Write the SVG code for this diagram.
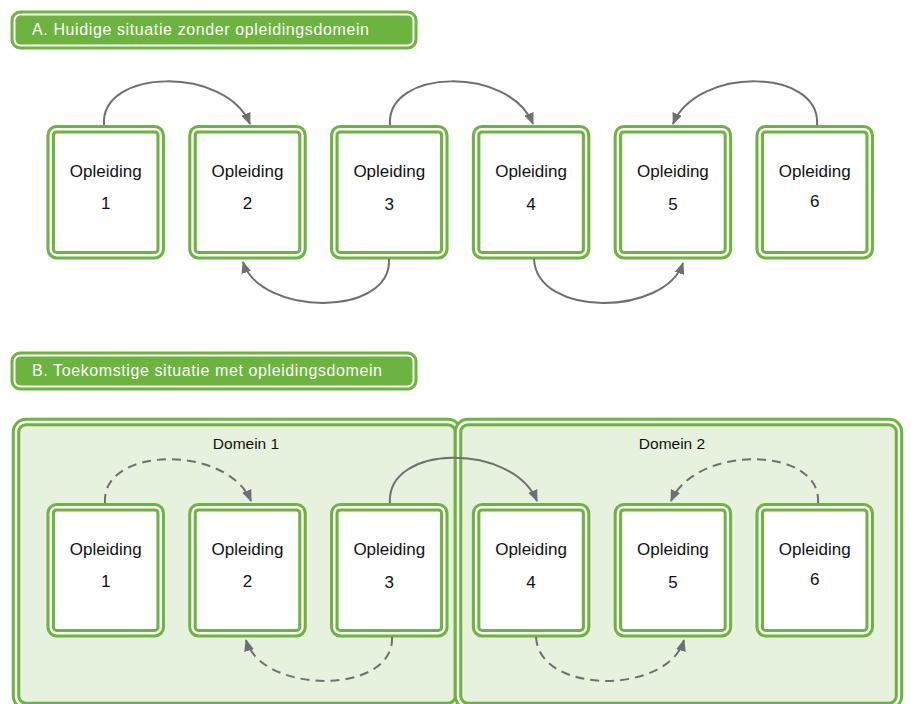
<svg xmlns="http://www.w3.org/2000/svg" width="911" height="704" viewBox="0 0 911 704">
  <style>
    .band { fill: none; stroke: #6db33f; stroke-width: 8.5; }
    .gap { fill: none; stroke: #ffffff; stroke-width: 2.4; }
    .card { fill: #ffffff; }
    .zone { fill: #e7f2de; }
    .hdr { fill: #6db33f; stroke: #6db33f; stroke-width: 1; }
    .hdr-line { fill: none; stroke: #ffffff; stroke-width: 2; }
    .hdr-text { font-family: "Liberation Sans", Arial, sans-serif; font-size: 16px; fill: #ffffff; }
    .lbl { font-family: "Liberation Sans", Arial, sans-serif; font-size: 17px; fill: #111111; text-anchor: middle; }
    .num { font-family: "Liberation Sans", Arial, sans-serif; font-size: 17px; fill: #111111; text-anchor: middle; }
    .dom { font-family: "Liberation Sans", Arial, sans-serif; font-size: 15.5px; fill: #111111; text-anchor: middle; }
    .link { fill: none; stroke: #6f6f70; stroke-width: 2; marker-end: url(#head); }
    .dash { stroke-dasharray: 9 6; }
  </style>
  <defs>
    <marker id="head" viewBox="0 0 12 10" refX="11" refY="5" markerWidth="12" markerHeight="10" markerUnits="userSpaceOnUse" orient="auto">
      <path d="M0,0 L12,5 L0,10 z" fill="#6f6f70" stroke="none"/>
    </marker>
    <!-- double-line card frame, drawn at origin -->
    <g id="frame">
      <rect class="card" x="0" y="0" width="110" height="126" rx="6"/>
      <rect class="band" x="0" y="0" width="110" height="126" rx="6"/>
      <rect class="gap" x="0" y="0" width="110" height="126" rx="6"/>
    </g>
  </defs>

  <!-- Header A -->
  <g id="header-a">
    <rect class="hdr" x="11" y="11" width="406" height="38" rx="9"/>
    <rect class="hdr-line" x="14.5" y="14.5" width="399" height="31" rx="6"/>
    <text class="hdr-text" x="32" y="35" textLength="337" lengthAdjust="spacing">A. Huidige situatie zonder opleidingsdomein</text>
  </g>

  <!-- Section A cards -->
  <g id="a1"><use href="#frame" x="50.7" y="129.2"/><text class="lbl" x="105.7" y="177">Opleiding</text><text class="num" x="105.7" y="209">1</text></g>
  <g id="a2"><use href="#frame" x="192.5" y="129.2"/><text class="lbl" x="247.5" y="177">Opleiding</text><text class="num" x="247.5" y="209">2</text></g>
  <g id="a3"><use href="#frame" x="334.3" y="129.2"/><text class="lbl" x="389.3" y="177">Opleiding</text><text class="num" x="389.3" y="210">3</text></g>
  <g id="a4"><use href="#frame" x="476.1" y="129.2"/><text class="lbl" x="531.1" y="177">Opleiding</text><text class="num" x="531.1" y="210">4</text></g>
  <g id="a5"><use href="#frame" x="617.9" y="129.2"/><text class="lbl" x="672.9" y="177">Opleiding</text><text class="num" x="672.9" y="210">5</text></g>
  <g id="a6"><use href="#frame" x="759.7" y="129.2"/><text class="lbl" x="814.7" y="177">Opleiding</text><text class="num" x="814.7" y="207">6</text></g>

  <!-- Header B -->
  <g id="header-b">
    <rect class="hdr" x="11" y="352" width="406" height="38" rx="9"/>
    <rect class="hdr-line" x="14.5" y="355.5" width="399" height="31" rx="6"/>
    <text class="hdr-text" x="32" y="376" textLength="350" lengthAdjust="spacing">B. Toekomstige situatie met opleidingsdomein</text>
  </g>

  <!-- Domains -->
  <g id="domein-1">
    <rect class="zone" x="16" y="422" width="442" height="284" rx="10"/>
    <rect class="band" x="16" y="422" width="442" height="284" rx="10"/>
    <rect class="gap" x="16" y="422" width="442" height="284" rx="10"/>
    <text class="dom" x="246" y="449">Domein 1</text>
  </g>
  <g id="domein-2">
    <rect class="zone" x="458" y="422" width="441" height="284" rx="10"/>
    <rect class="band" x="458" y="422" width="441" height="284" rx="10"/>
    <rect class="gap" x="458" y="422" width="441" height="284" rx="10"/>
    <text class="dom" x="672" y="449">Domein 2</text>
  </g>

  <!-- Section B cards -->
  <g id="b1"><use href="#frame" x="50.7" y="507.2"/><text class="lbl" x="105.7" y="555">Opleiding</text><text class="num" x="105.7" y="587">1</text></g>
  <g id="b2"><use href="#frame" x="192.5" y="507.2"/><text class="lbl" x="247.5" y="555">Opleiding</text><text class="num" x="247.5" y="587">2</text></g>
  <g id="b3"><use href="#frame" x="334.3" y="507.2"/><text class="lbl" x="389.3" y="555">Opleiding</text><text class="num" x="389.3" y="588">3</text></g>
  <g id="b4"><use href="#frame" x="476.1" y="507.2"/><text class="lbl" x="531.1" y="555">Opleiding</text><text class="num" x="531.1" y="588">4</text></g>
  <g id="b5"><use href="#frame" x="617.9" y="507.2"/><text class="lbl" x="672.9" y="555">Opleiding</text><text class="num" x="672.9" y="588">5</text></g>
  <g id="b6"><use href="#frame" x="759.7" y="507.2"/><text class="lbl" x="814.7" y="555">Opleiding</text><text class="num" x="814.7" y="585">6</text></g>

  <!-- Connectors -->
  <g id="connectors">
    <!-- section A -->
    <path class="link" d="M104,125 C100,68 226,66 250,124"/>
    <path class="link" d="M389,259 C392,318 260,316 243,262"/>
    <path class="link" d="M390,125 C386,68 510,66 533,124"/>
    <path class="link" d="M534,259 C537,318 665,316 683,263"/>
    <path class="link" d="M817,125 C821,68 697,66 673,124"/>
    <!-- section B -->
    <path class="link dash" d="M105,503 C101,446 227,444 251,501"/>
    <path class="link" d="M390,503 C386,444 512,442 537,501"/>
    <path class="link dash" d="M818,503 C822,446 696,444 671,501"/>
    <path class="link dash" d="M392,637 C395,695 262,695 246,640"/>
    <path class="link dash" d="M536,637 C539,695 668,695 684,640"/>
  </g>
</svg>
